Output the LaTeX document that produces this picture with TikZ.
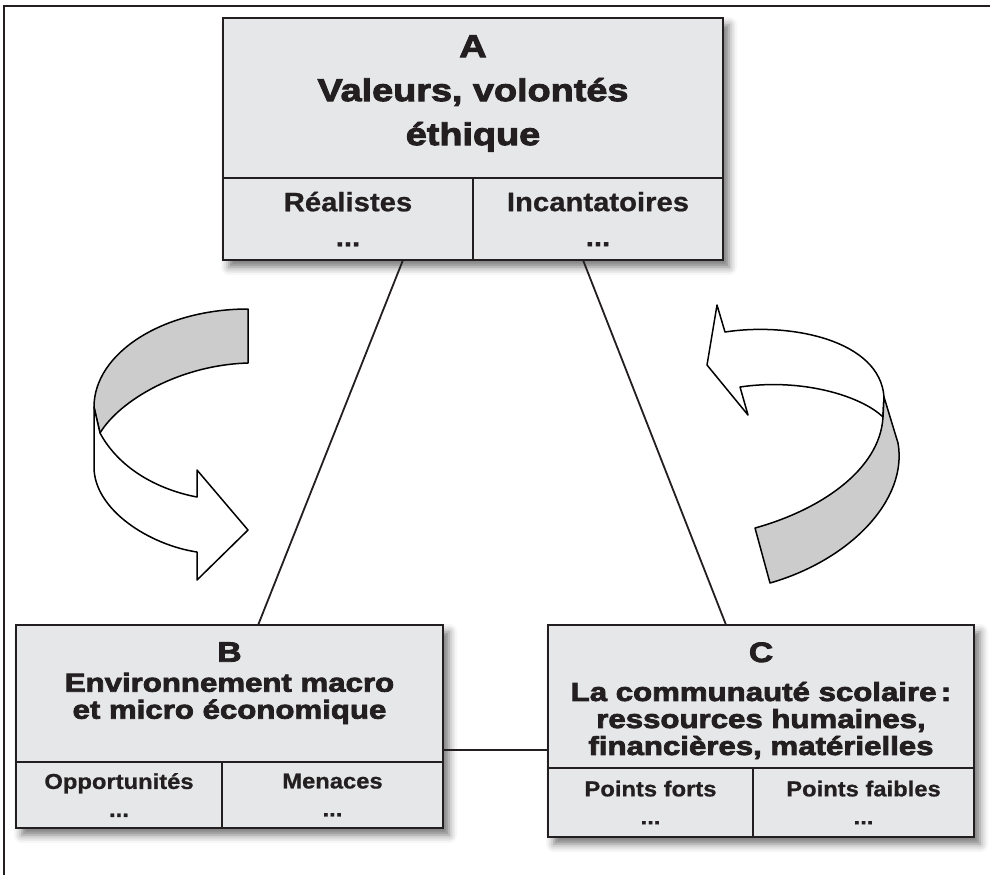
\documentclass[tikz,border=0pt]{standalone}
\usepackage{fontspec}
\setmainfont{Liberation Sans}
\newfontfamily\heavyfont{Liberation Sans}[FakeStretch=1.2, BoldFeatures={FakeBold=3}]
\newfontfamily\cellfont{Liberation Sans}[FakeStretch=1.1, BoldFeatures={FakeBold=0.8}]
\usetikzlibrary{positioning, calc, fit, backgrounds, shadows.blur}
\definecolor{ink}{HTML}{231F20}
\definecolor{panelgray}{HTML}{E6E7E8}
\definecolor{bandgray}{HTML}{CCCCCC}

\begin{document}
\begin{tikzpicture}[
    x=0.5pt, y=-0.5pt,
    panel/.style={draw=ink, fill=panelgray, line width=1.1pt, outer sep=0pt, inner sep=0pt},
    cell/.style={panel, align=center, text=ink},
    cellA/.style={cell, minimum height=41pt, font=\cellfont\bfseries\fontsize{13.3}{17.5}\selectfont},
    cellB/.style={cell, minimum height=33pt, font=\cellfont\bfseries\fontsize{10.8}{14}\selectfont},
    cellC/.style={cell, minimum height=34.5pt, font=\cellfont\bfseries\fontsize{10.8}{14}\selectfont},
    title/.style={anchor=north, inner sep=0pt, align=center, text=ink},
    shade/.style={inner sep=0pt, blur shadow={shadow xshift=3pt, shadow yshift=-3.5pt, shadow blur radius=4pt, shadow opacity=55}},
    link/.style={draw=ink, line width=0.9pt},
    ribbon/.style={draw=black, line width=0.75pt, line join=round, fill=white},
    ribbonback/.style={ribbon, fill=bandgray},
    frame/.style={draw=ink, line width=1.1pt}
  ]
    \useasboundingbox (0,0) rectangle (990,875);
    \draw[frame] (990,6) -- (4,6) -- (4,875);

    % A : valeurs
    \node[panel, minimum width=250pt, minimum height=80pt] (A) at (473,98) {};
    \node[cellA, minimum width=125pt, below right=0pt and 0pt of A.south west] (Al) {Réalistes\\...};
    \node[cellA, minimum width=125pt, right=0pt of Al] (Ar) {Incantatoires\\...};
    \node[title, font=\heavyfont\bfseries\fontsize{15.75}{22}\selectfont] (Atext) at ($(A.north)+(0,17)$)
    {A\\Valeurs, volontés\\éthique};

    % B : environnement
    \node[panel, minimum width=213.5pt, minimum height=68.5pt] (B) at (229.5,693.5) {};
    \node[cellB, minimum width=103pt, below right=0pt and 0pt of B.south west] (Bl) {Opportunités\\...};
    \node[cellB, minimum width=110.5pt, right=0pt of Bl] (Br) {Menaces\\...};
    \node[title, font=\heavyfont\bfseries\fontsize{13}{13.5}\selectfont] (Btext) at ($(B.north)+(0,17)$)
    {{\fontsize{14}{14}\selectfont B}\\[1.5pt]Environnement macro\\et micro économique};

    % C : communaute scolaire
    \node[panel, minimum width=213pt, minimum height=71.5pt] (C) at (761,696.5) {};
    \node[cellC, minimum width=102.5pt, below right=0pt and 0pt of C.south west] (Cl) {Points forts\\...};
    \node[cellC, minimum width=110.5pt, right=0pt of Cl] (Cr) {Points faibles\\...};
    \node[title, font=\heavyfont\bfseries\fontsize{13}{13.5}\selectfont] (Ctext) at ($(C.north)+(0,17)$)
    {{\fontsize{14}{14}\selectfont C}\\[6pt]La communauté scolaire\,:\\ressources humaines,\\financières, matérielles};

    \begin{scope}[on background layer]
      \node[shade, fit=(A)(Al)(Ar)] (Ashade) {};
      \node[shade, fit=(B)(Bl)(Br)] (Bshade) {};
      \node[shade, fit=(C)(Cl)(Cr)] (Cshade) {};
    \end{scope}

    \draw[link] ($(Al.south west)!0.72!(Al.south east)$) -- ($(B.north west)!0.567!(B.north east)$);
    \draw[link] ($(Ar.south west)!0.44!(Ar.south east)$) -- ($(C.north west)!0.418!(C.north east)$);
    \draw[link] ([yshift=6pt]B.south east) -- ([yshift=6pt]B.south east -| C.west);

    % twisted arrows
    \draw[ribbonback] (248,309) .. controls (163,309) and (94,353) .. (94,407) -- (100,433)
      .. controls (120,400) and (180,365) .. (248,363) -- cycle;
    \draw[ribbon] (94,407) -- (94,467) .. controls (94,510) and (150,545) .. (197,552)
      -- (197,580) -- (248,530) -- (197,470) -- (197,497)
      .. controls (160,490) and (120,470) .. (100,433) -- cycle;
    \draw[ribbon] (884,397) .. controls (880,340) and (790,322) .. (725,332)
      -- (717,305) -- (707,365) -- (748,415) -- (740,387)
      .. controls (800,378) and (860,395) .. (883,417) -- cycle;
    \draw[ribbonback] (884,397) -- (898,443) .. controls (908,500) and (850,560) .. (770,583)
      -- (755,528) .. controls (820,510) and (880,470) .. (883,417) -- cycle;
  \end{tikzpicture}
\end{document}
